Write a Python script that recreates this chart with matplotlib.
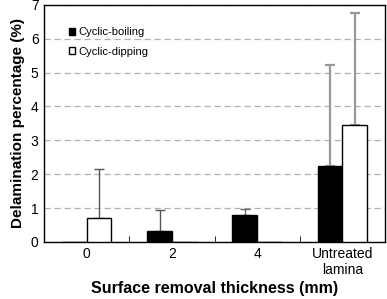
import numpy as np
import matplotlib
matplotlib.use("Agg")
import matplotlib.pyplot as plt

plt.rcParams['font.family'] = ['Liberation Sans', 'DejaVu Sans']

categories = ["0", "2", "4", "Untreated\nlamina"]
boiling = [0.0, 0.33, 0.80, 2.25]
boiling_err = [0.0, 0.60, 0.17, 2.98]
dipping = [0.72, 0.0, 0.0, 3.45]
dipping_err = [1.43, 0.0, 0.0, 3.30]
# error bar shade per category (untreated ones are lighter and thicker)
err_color = ["#555555", "#555555", "#666666", "#999999"]
err_width = [1.0, 1.0, 1.0, 1.6]

fig = plt.figure(figsize=(3.87, 2.99), dpi=100)
ax = fig.add_axes([0.114, 0.191, 0.881, 0.793])

x = np.arange(len(categories))
w = 0.29

ax.bar(x - w / 2, boiling, w, color="black", edgecolor="black", linewidth=1,
       label="Cyclic-boiling", zorder=3)
ax.bar(x + w / 2, dipping, w, color="white", edgecolor="black", linewidth=1,
       label="Cyclic-dipping", zorder=3)

# upward-only error bars, only where a bar exists
for i in x:
    for xpos, val, err in [(i - w / 2, boiling[i], boiling_err[i]),
                           (i + w / 2, dipping[i], dipping_err[i])]:
        if val > 0:
            ax.errorbar(xpos, val, yerr=[[0], [err]], fmt="none",
                        ecolor=err_color[i], elinewidth=err_width[i],
                        capsize=3.5, capthick=err_width[i], zorder=2)

ax.set_xlim(-0.5, 3.5)
ax.set_ylim(0, 7)
ax.set_yticks(range(0, 8))
ax.yaxis.grid(True, linestyle=(0, (5, 3)), color="#b0b0b0", linewidth=0.9, zorder=0)
ax.set_axisbelow(True)

ax.set_xticks(x)
ax.set_xticklabels(categories, fontsize=10, linespacing=1.1)
ax.tick_params(axis="x", length=0, pad=4)
ax.set_xticks([0.5, 1.5, 2.5], minor=True)
ax.tick_params(axis="x", which="minor", direction="in", length=4)
ax.tick_params(axis="y", direction="in", length=0, labelsize=10, pad=4)

for s in ax.spines.values():
    s.set_linewidth(1.0)

ax.set_ylabel("Delamination percentage (%)", fontsize=11, fontweight="bold", labelpad=4)
ax.set_xlabel("Surface removal thickness (mm)", fontsize=11.5, fontweight="bold", labelpad=3)

ax.legend(loc="upper left", bbox_to_anchor=(0.072, 0.905), frameon=False, fontsize=8,
          handlelength=0.55, handleheight=0.55, handletextpad=0.3, labelspacing=0.85,
          borderpad=0, borderaxespad=0)

fig.savefig("out.png", dpi=100)
